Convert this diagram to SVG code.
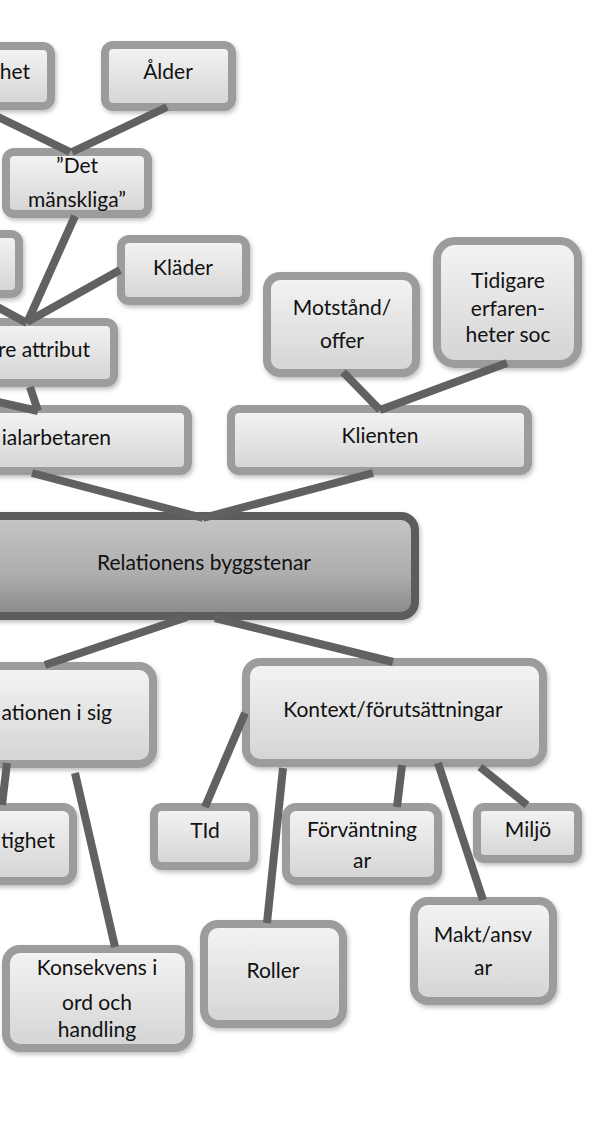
<svg xmlns="http://www.w3.org/2000/svg" width="601" height="1126" viewBox="0 0 601 1126">
<defs>
<linearGradient id="gNode" x1="0" y1="0" x2="0" y2="1">
<stop offset="0" stop-color="#f4f4f4"/>
<stop offset="1" stop-color="#d4d4d4"/>
</linearGradient>
<linearGradient id="gCenter" x1="0" y1="0" x2="0" y2="1">
<stop offset="0" stop-color="#c6c6c6"/>
<stop offset="0.6" stop-color="#acacac"/>
<stop offset="1" stop-color="#888888"/>
</linearGradient>
<filter id="sh" x="-10%" y="-10%" width="130%" height="140%">
<feDropShadow dx="1.5" dy="2.5" stdDeviation="2" flood-color="#000" flood-opacity="0.25"/>
</filter>
</defs>
<style>
.n{fill:url(#gNode);stroke:#9c9c9c;stroke-width:8;filter:url(#sh)}
.c{fill:url(#gCenter);stroke:#5c5c5c;stroke-width:8;filter:url(#sh)}
.t{font-family:Lato,"Open Sans","Liberation Sans",sans-serif;font-size:21px;fill:#111;text-anchor:middle}
.e{text-anchor:end}
.k line{stroke:#616161;stroke-width:8;stroke-linecap:butt}
</style>
<rect width="601" height="1126" fill="#fff"/>

<g id="n-het"><rect class="n" x="-56" y="46" width="107" height="60" rx="8"/><text class="t e" x="30" y="79">het</text></g>
<g id="n-alder"><rect class="n" x="105" y="45" width="127" height="62" rx="8"/><text class="t" x="168" y="79">Ålder</text></g>
<g id="n-det"><rect class="n" x="6" y="152" width="142" height="62" rx="8"/><text class="t" x="77" y="173">”Det</text><text class="t" x="77" y="207">mänskliga”</text></g>
<g id="n-left"><rect class="n" x="-56" y="234" width="75" height="60" rx="8"/></g>
<g id="n-klader"><rect class="n" x="121" y="239" width="125" height="62" rx="8"/><text class="t" x="183" y="275">Kläder</text></g>
<g id="n-attribut"><rect class="n" x="-56" y="322" width="170" height="61" rx="8"/><text class="t e" x="90" y="357">re attribut</text></g>
<g id="n-soc"><rect class="n" x="-56" y="409" width="244" height="62" rx="8"/><text class="t e" x="111" y="445">ialarbetaren</text></g>
<g id="n-motstand"><rect class="n" x="267" y="276" width="149" height="97" rx="13"/><text class="t" x="342" y="315">Motstånd/</text><text class="t" x="342" y="348">offer</text></g>
<g id="n-tidigare"><rect class="n" x="437" y="241" width="141" height="123" rx="18"/><text class="t" x="508" y="288">Tidigare</text><text class="t" x="508" y="316">erfaren-</text><text class="t" x="508" y="342">heter soc</text></g>
<g id="n-klienten"><rect class="n" x="231" y="409" width="297" height="62" rx="8"/><text class="t" x="380" y="443">Klienten</text></g>
<g id="n-center"><rect class="c" x="-56" y="516" width="471" height="100" rx="14"/><text class="t" x="204" y="570">Relationens byggstenar</text></g>
<g id="n-relationen"><rect class="n" x="-56" y="666" width="209" height="98" rx="14"/><text class="t e" x="112" y="720">ationen i sig</text></g>
<g id="n-tighet"><rect class="n" x="-56" y="807" width="129" height="74" rx="10"/><text class="t e" x="55" y="848">tighet</text></g>
<g id="n-konsekvens"><rect class="n" x="6" y="949" width="183" height="99" rx="14"/><text class="t" x="97" y="975">Konsekvens i</text><text class="t" x="97" y="1010">ord och</text><text class="t" x="97" y="1037">handling</text></g>
<g id="n-kontext"><rect class="n" x="246" y="662" width="297" height="101" rx="14"/><text class="t" x="393" y="717">Kontext/förutsättningar</text></g>
<g id="n-tid"><rect class="n" x="154" y="807" width="100" height="59" rx="8"/><text class="t" x="205" y="838">TId</text></g>
<g id="n-forvantning"><rect class="n" x="286" y="807" width="152" height="74" rx="10"/><text class="t" x="362" y="837">Förväntning</text><text class="t" x="362" y="868">ar</text></g>
<g id="n-miljo"><rect class="n" x="477" y="807" width="101" height="52" rx="7"/><text class="t" x="528" y="837">Miljö</text></g>
<g id="n-roller"><rect class="n" x="204" y="924" width="139" height="100" rx="14"/><text class="t" x="273" y="978">Roller</text></g>
<g id="n-makt"><rect class="n" x="414" y="901" width="139" height="100" rx="14"/><text class="t" x="483" y="942">Makt/ansv</text><text class="t" x="483" y="975">ar</text></g>

<g id="connectors" class="k">
<line x1="-12" y1="112" x2="70" y2="152"/>
<line x1="167" y1="107" x2="72" y2="152"/>
<line x1="75" y1="216" x2="27" y2="323"/>
<line x1="-10" y1="303" x2="27" y2="323"/>
<line x1="120" y1="270" x2="27" y2="322"/>
<line x1="30" y1="387" x2="38" y2="411"/>
<line x1="-10" y1="400" x2="38" y2="411"/>
<line x1="343" y1="372" x2="380" y2="410"/>
<line x1="507" y1="363" x2="380" y2="410"/>
<line x1="32" y1="473" x2="203" y2="518"/>
<line x1="373" y1="473" x2="203" y2="518"/>
<line x1="187" y1="617" x2="45" y2="665"/>
<line x1="215" y1="618" x2="393" y2="662"/>
<line x1="245" y1="713" x2="205" y2="807"/>
<line x1="283" y1="768" x2="267" y2="923"/>
<line x1="402" y1="765" x2="397" y2="807"/>
<line x1="438" y1="763" x2="483" y2="900"/>
<line x1="480" y1="767" x2="527" y2="805"/>
<line x1="7" y1="763" x2="2" y2="805"/>
<line x1="75" y1="773" x2="115" y2="947"/>
</g>
</svg>
